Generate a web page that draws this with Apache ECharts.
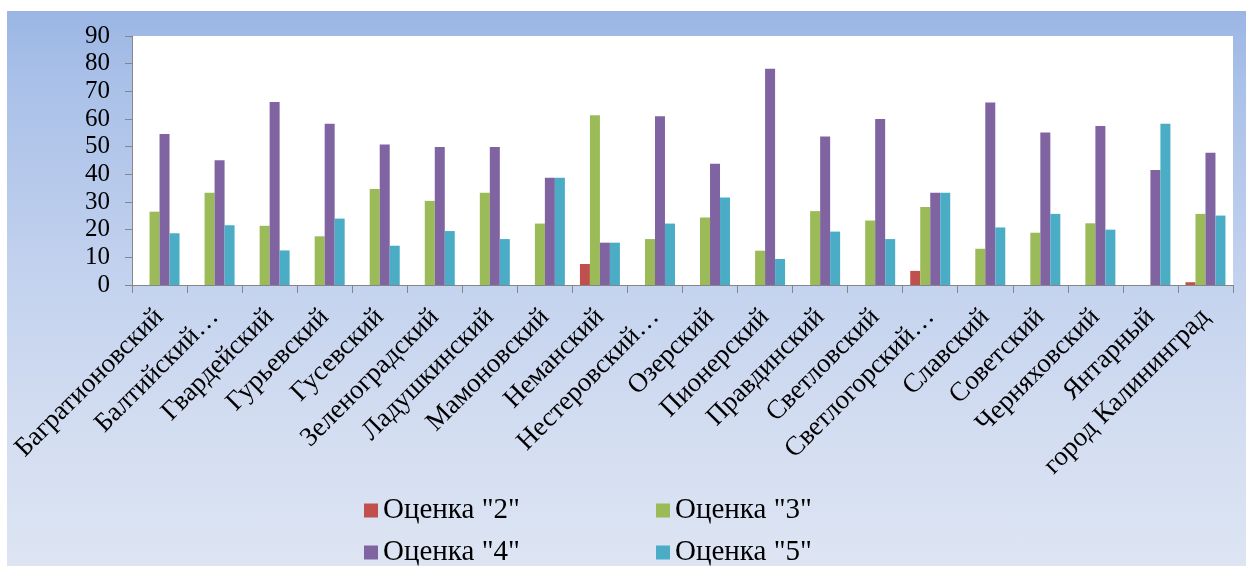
<!DOCTYPE html>
<html>
<head>
<meta charset="utf-8">
<script src="https://cdn.jsdelivr.net/npm/echarts@6/dist/echarts.min.js"></script>
<style>
  html, body { margin: 0; padding: 0; background: #ffffff; }
  #bg {
    position: absolute; left: 7px; top: 11px; width: 1239px; height: 555px;
    background: linear-gradient(to bottom, #9bb6e4 0%, #a9c0e8 12%, #c3d2ee 48%, #d3ddf1 75%, #dde5f3 100%);
  }
  #chart { position: absolute; left: 0; top: 0; width: 1246px; height: 566px; }
</style>
</head>
<body>
<div id="bg"></div>
<div id="chart"></div>
<script>
// Districts of the region
const categories = [
  "Багратионовский", "Балтийский…", "Гвардейский", "Гурьевский", "Гусевский",
  "Зеленоградский", "Ладушкинский", "Мамоновский", "Неманский", "Нестеровский…",
  "Озерский", "Пионерский", "Правдинский", "Светловский", "Светлогорский…",
  "Славский", "Советский", "Черняховский", "Янтарный", "город Калининград"
];

// Share of each grade, %
const grade2 = [0, 0, 0, 0, 0, 0, 0, 0, 7.6, 0, 0, 0, 0, 0, 5.1, 0, 0, 0, 0, 1.0];
const grade3 = [26.5, 33.3, 21.4, 17.6, 34.7, 30.4, 33.3, 22.2, 61.4, 16.6, 24.4, 12.4, 26.7, 23.3, 28.2, 13.1, 18.9, 22.3, 0, 25.7];
const grade4 = [54.6, 45.1, 66.1, 58.3, 50.8, 49.9, 49.9, 38.8, 15.3, 61.0, 43.8, 78.2, 53.7, 60.0, 33.3, 66.0, 55.1, 57.5, 41.6, 47.8];
const grade5 = [18.7, 21.6, 12.5, 24.0, 14.2, 19.5, 16.6, 38.8, 15.3, 22.2, 31.6, 9.4, 19.3, 16.6, 33.3, 20.8, 25.7, 20.0, 58.3, 25.1];

const seriesNames = ['Оценка "2"', 'Оценка "3"', 'Оценка "4"', 'Оценка "5"'];
const seriesColors = ['#c0504d', '#9bbb59', '#8064a2', '#4bacc6'];
const seriesData = [grade2, grade3, grade4, grade5];

const FONT = "'Times New Roman', 'Liberation Serif', 'DejaVu Serif', serif";
const AXIS_GRAY = '#868686';

function legendAt(name, left, top) {
  return {
    data: [name], left: left, top: top, padding: 0,
    icon: 'rect', itemWidth: 14, itemHeight: 14,
    textStyle: { fontFamily: FONT, fontSize: 29, color: '#000' }
  };
}

const chart = echarts.init(document.getElementById('chart'), null, { renderer: 'canvas' });
chart.setOption({
  animation: false,
  backgroundColor: 'transparent',
  textStyle: { fontFamily: FONT },
  grid: {
    left: 132, right: 13, top: 36, bottom: 281,
    show: true, backgroundColor: '#ffffff', borderWidth: 0
  },
  legend: [
    legendAt(seriesNames[0], 364, 496),
    legendAt(seriesNames[1], 656, 496),
    legendAt(seriesNames[2], 364, 538),
    legendAt(seriesNames[3], 656, 538)
  ],
  xAxis: {
    type: 'category',
    data: categories,
    boundaryGap: true,
    axisLine: { lineStyle: { color: AXIS_GRAY, width: 1 } },
    axisTick: { show: true, length: 8, lineStyle: { color: AXIS_GRAY } },
    axisLabel: {
      interval: 0, rotate: 45, margin: 28,
      fontFamily: FONT, fontSize: 27, color: '#000'
    },
    splitLine: { show: false }
  },
  yAxis: {
    type: 'value',
    min: 0, max: 90, interval: 10,
    axisLine: { show: true, lineStyle: { color: AXIS_GRAY, width: 1 } },
    axisTick: { show: true, length: 7, lineStyle: { color: AXIS_GRAY } },
    axisLabel: { margin: 22, fontFamily: FONT, fontSize: 25, color: '#000' },
    splitLine: { show: false }
  },
  series: seriesNames.map((name, i) => ({
    name: name,
    type: 'bar',
    data: seriesData[i],
    barWidth: 10,
    barGap: '0%',
    itemStyle: { color: seriesColors[i] }
  }))
});
</script>
</body>
</html>
